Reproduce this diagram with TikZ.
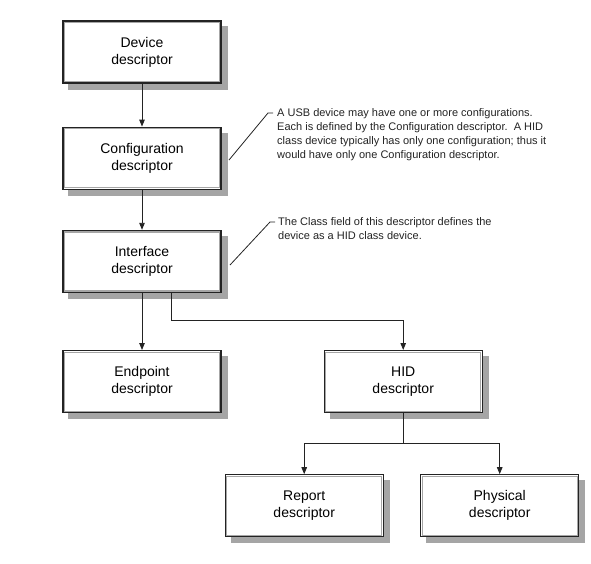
\documentclass[tikz,border=0pt]{standalone}
\usepackage{fontspec}
\setmainfont{Liberation Sans}
\usetikzlibrary{positioning,arrows.meta,backgrounds}
\definecolor{dgray}{RGB}{35,35,35}
\definecolor{sgray}{RGB}{165,165,165}

\begin{document}
\begin{tikzpicture}[x=1pt,y=-1pt,>={Triangle[length=7pt,width=5.5pt]},node distance=40pt and 100pt,
    desc/.style={rectangle,draw=dgray,line width=1.2pt,fill=white,minimum width=158pt,minimum height=62pt,
                inner sep=0pt,align=center,font=\fontsize{14}{17}\selectfont,
                path picture={\draw[black!35,line width=1.2pt]
                  ([shift={(1.5pt,-1.5pt)}]path picture bounding box.north west) rectangle
                  ([shift={(-1.5pt,1.5pt)}]path picture bounding box.south east);}},
    shade/.style={fill=sgray,draw=none},
    note/.style={inner sep=0pt,align=left,font=\fontsize{11}{14}\selectfont,text=dgray},
    ar/.style={->,line width=0.9pt,draw=dgray},
    ln/.style={line width=0.8pt,draw=dgray}]
    \useasboundingbox (0,0) rectangle (591,563);
    \node[desc] (dev) at (142,52) {Device\\ descriptor};
    \node[desc,below=43pt of dev] (cfg) {Configuration\\ descriptor};
    \node[desc,below=40pt of cfg] (ifc) {Interface\\ descriptor};
    \node[desc,below=57pt of ifc] (ep)  {Endpoint\\ descriptor};
    \node[desc,right=102pt of ep]  (hid) {HID\\ descriptor};
    \node[desc,below=61pt of hid,xshift=-99pt] (rep) {Report\\ descriptor};
    \node[desc,below=61pt of hid,xshift=96.5pt] (phy) {Physical\\ descriptor};
    \begin{scope}[on background layer]
      \foreach \n in {dev,cfg,ifc,ep,hid,rep,phy}
        \fill[shade] ([shift={(6pt,-6pt)}]\n.south west) rectangle ([shift={(6pt,-6pt)}]\n.north east);
    \end{scope}
    \draw[ar](dev)--(cfg);\draw[ar](cfg)--(ifc);\draw[ar](ifc)--(ep);
    \draw[ar] ([xshift=29pt]ifc.south) -- ++(0,27) -| (hid.north);
    \draw[ln] (hid.south) -- ++(0,30) coordinate (split);
    \draw[ar] (split) -| (rep.north);\draw[ar] (split) -| (phy.north);
    % notes
    \node[note,anchor=north west] (cfgnote) at (277,108)
      {A USB device may have one or more configurations.\\
       Each is defined by the Configuration descriptor.~~A HID\\
       class device typically has only one configuration; thus it\\
       would have only one Configuration descriptor.};
    \node[note,anchor=north west] (ifcnote) at (278,217)
      {The Class field of this descriptor defines the\\
       device as a HID class device.};
    \coordinate (cfgtip) at (229,160);
    \coordinate (ifctip) at (230,265);
    \draw[ln] (cfgtip) -- ([shift={(-9pt,-5pt)}]cfgnote.north west) -- ([shift={(-4pt,-5pt)}]cfgnote.north west);
    \draw[ln] (ifctip) -- ([shift={(-8pt,-5pt)}]ifcnote.north west) -- ([shift={(-3pt,-5pt)}]ifcnote.north west);
\end{tikzpicture}
\end{document}
